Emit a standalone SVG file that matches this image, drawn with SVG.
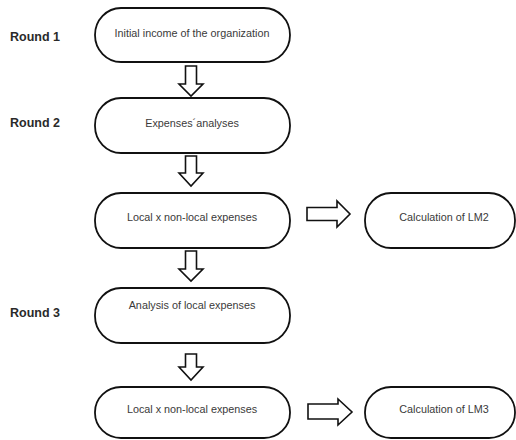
<svg xmlns="http://www.w3.org/2000/svg" width="516" height="440" viewBox="0 0 516 440">
<style>
.node{fill:#fff;stroke:#111;stroke-width:1.8}
.lbl{font-family:"Liberation Sans",Arial,sans-serif;font-size:10.8px;fill:#3a3a3a;text-anchor:middle}
.round{font-family:"Liberation Sans",Arial,sans-serif;font-size:12.5px;font-weight:bold;fill:#2a2a2a}
.arr{fill:#fff;stroke:#111;stroke-width:1.6;stroke-linejoin:miter}
</style>
<rect width="516" height="440" fill="#fff"/>
<g id="labels">
<text class="round" x="10" y="41">Round 1</text>
<text class="round" x="10" y="127">Round 2</text>
<text class="round" x="10" y="317">Round 3</text>
</g>
<g id="n1"><rect class="node" x="95" y="8" width="195" height="54" rx="26" ry="27"/><text class="lbl" x="192" y="37">Initial income of the organization</text></g>
<g id="n2"><rect class="node" x="95" y="98" width="195" height="55" rx="26" ry="27"/><text class="lbl" x="192" y="127">Expenses´analyses</text></g>
<g id="n3"><rect class="node" x="95" y="193" width="195" height="55" rx="26" ry="27"/><text class="lbl" x="192" y="221">Local x non-local expenses</text></g>
<g id="n4"><rect class="node" x="95" y="288" width="195" height="55" rx="26" ry="27"/><text class="lbl" x="192" y="309">Analysis of local expenses</text></g>
<g id="n5"><rect class="node" x="95" y="387" width="195" height="51" rx="26" ry="25"/><text class="lbl" x="192" y="413">Local x non-local expenses</text></g>
<g id="r1"><rect class="node" x="365" y="193" width="150" height="55" rx="26" ry="27"/><text class="lbl" x="444" y="221">Calculation of LM2</text></g>
<g id="r2"><rect class="node" x="365" y="387" width="150" height="51" rx="26" ry="25"/><text class="lbl" x="444" y="413">Calculation of LM3</text></g>
<g id="connectors">
<path class="arr" d="M185.5,66 H196.5 V84 H203 L191,96 L179,84 H185.5 Z"/>
<path class="arr" d="M185.5,156 H196.5 V173 H203 L191,186 L179,173 H185.5 Z"/>
<path class="arr" d="M185.5,251 H196.5 V269 H203 L191,281 L179,269 H185.5 Z"/>
<path class="arr" d="M185.5,354 H196.5 V367 H203 L191,380 L179,367 H185.5 Z"/>
<path class="arr" d="M307,207.5 H337 V201 L350,214 L337,227 V220.5 H307 Z"/>
<path class="arr" d="M308,404 H338 V399 L352,412 L338,425 V419 H308 Z"/>
</g>
</svg>
